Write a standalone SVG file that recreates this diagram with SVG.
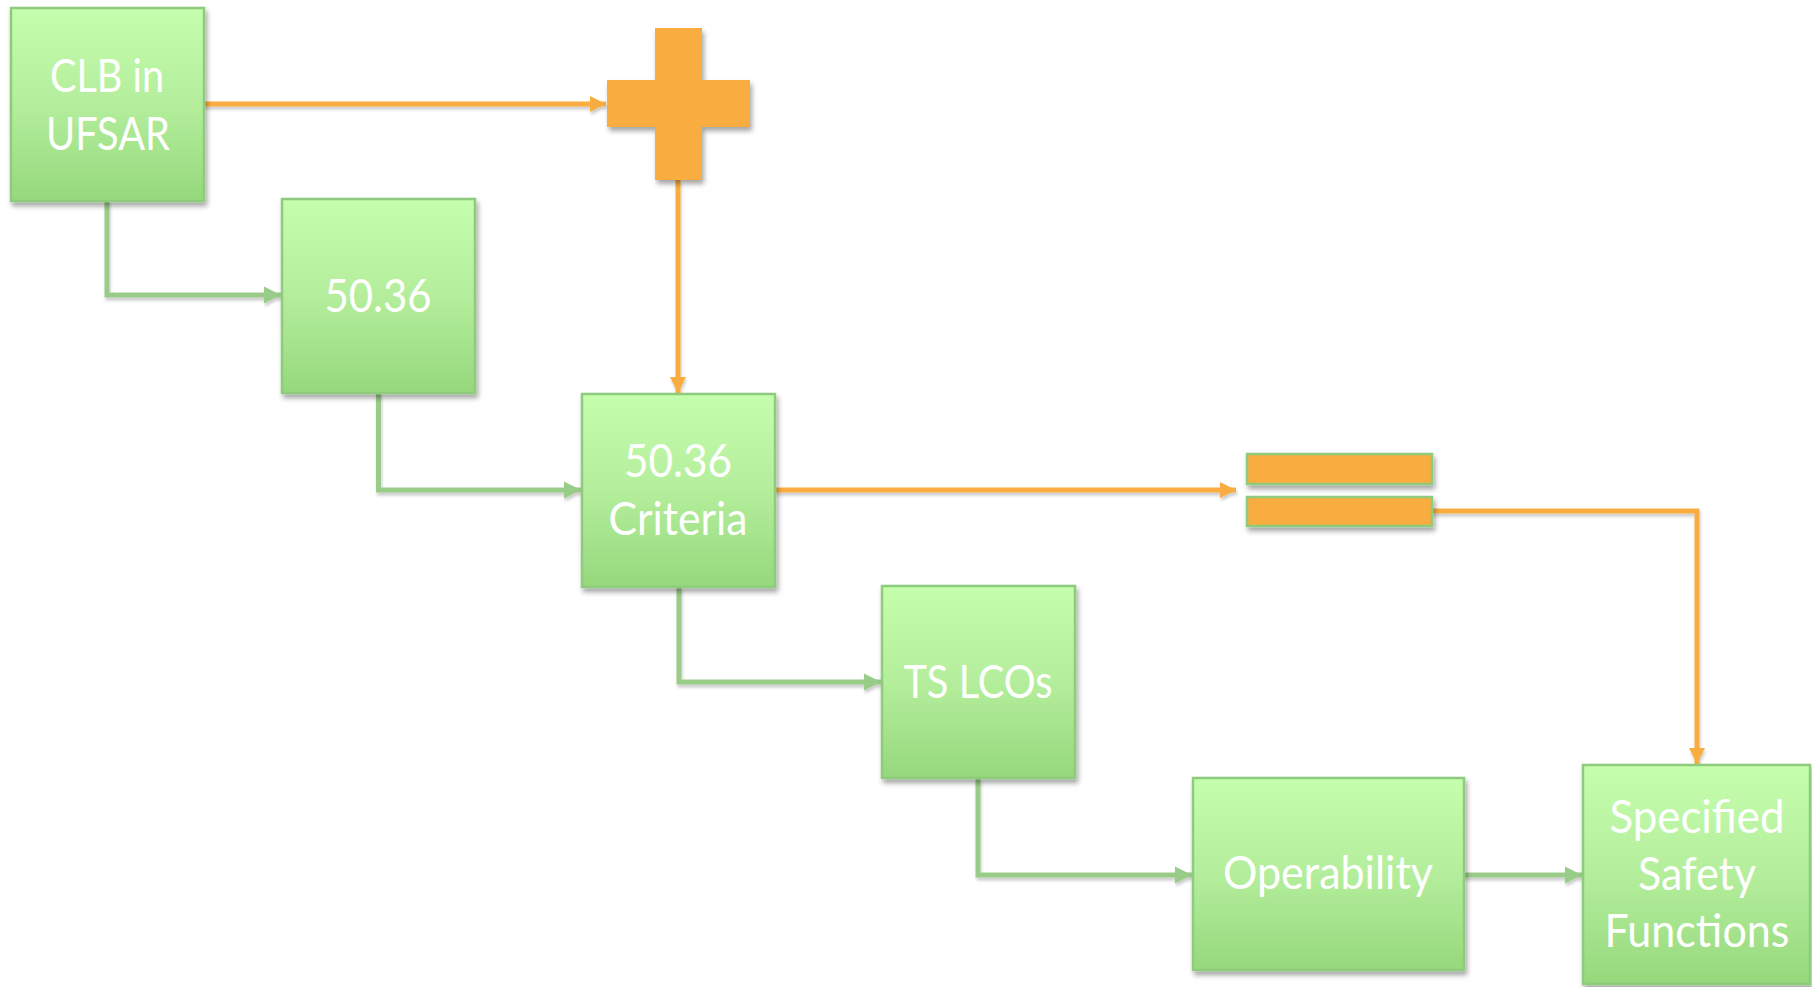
<svg xmlns="http://www.w3.org/2000/svg" width="1812" height="987" viewBox="0 0 1812 987">
<style>
.box{fill:url(#g);stroke:#8fcb7b;stroke-width:2.5;filter:url(#sh)}
.t{font-family:Lato,"Open Sans",sans-serif;font-size:46px;fill:#ffffff;text-anchor:middle}
.gc{fill:none;stroke:#99cc88;stroke-width:5;filter:url(#sh2)}
.oc{fill:none;stroke:#f9ad3f;stroke-width:5;filter:url(#sh2)}
.or{fill:#f9ad3f}
.eq{fill:#f9ad3f;stroke:#8fcb7b;stroke-width:2.5;filter:url(#sh)}
</style>
<defs>
<linearGradient id="g" x1="0" y1="0" x2="0" y2="1">
<stop offset="0" stop-color="#c5ffae"/>
<stop offset="0.5" stop-color="#b4ee9c"/>
<stop offset="1" stop-color="#96d87c"/>
</linearGradient>
<filter id="sh" filterUnits="userSpaceOnUse" x="0" y="0" width="1812" height="987">
<feDropShadow dx="2" dy="4" stdDeviation="2.5" flood-color="#000" flood-opacity="0.35"/>
</filter>
<filter id="sh2" filterUnits="userSpaceOnUse" x="0" y="0" width="1812" height="987">
<feDropShadow dx="1" dy="3" stdDeviation="1.5" flood-color="#000" flood-opacity="0.2"/>
</filter>
<marker id="ag" markerUnits="userSpaceOnUse" markerWidth="20" markerHeight="20" viewBox="0 0 20 20" refX="17" refY="10" orient="auto">
<path d="M0,1.5 L17,10 L0,18.5 Z" fill="#99cc88"/>
</marker>
<marker id="ao" markerUnits="userSpaceOnUse" markerWidth="20" markerHeight="20" viewBox="0 0 20 20" refX="16" refY="10" orient="auto">
<path d="M0,2 L16,10 L0,18 Z" fill="#f9ad3f"/>
</marker>
</defs>
<rect width="1812" height="987" fill="#ffffff"/>
<g id="connectors">
<path class="gc" d="M107,201 V295 H281" marker-end="url(#ag)"/>
<path class="gc" d="M378.5,393 V490 H581" marker-end="url(#ag)"/>
<path class="gc" d="M679,587 V682 H881" marker-end="url(#ag)"/>
<path class="gc" d="M978,778 V875 H1192" marker-end="url(#ag)"/>
<path class="gc" d="M1464,875 H1582" marker-end="url(#ag)"/>
<path class="oc" d="M204,104 H606" marker-end="url(#ao)"/>
<path class="oc" d="M678,180 V393" marker-end="url(#ao)"/>
<path class="oc" d="M775,490 H1236" marker-end="url(#ao)"/>
<path class="oc" d="M1432,511 H1697 V764" marker-end="url(#ao)"/>
</g>
<g id="plus">
<path class="or" style="filter:url(#sh)" d="M655,28 H702 V80 H750 V127 H702 V180 H655 V127 H607 V80 H655 Z"/>
</g>
<g id="equals">
<rect class="eq" x="1247" y="454" width="185" height="30"/>
<rect class="eq" x="1247" y="497" width="185" height="29"/>
</g>
<g id="clb">
<rect class="box" x="11" y="8" width="193" height="193"/>
<text class="t" x="107" y="92" textLength="114" lengthAdjust="spacingAndGlyphs">CLB in</text>
<text class="t" x="108" y="150" textLength="124" lengthAdjust="spacingAndGlyphs">UFSAR</text>
</g>
<g id="n5036">
<rect class="box" x="282" y="199" width="193" height="194"/>
<text class="t" x="378" y="312" textLength="107" lengthAdjust="spacingAndGlyphs">50.36</text>
</g>
<g id="criteria">
<rect class="box" x="582" y="394" width="193" height="193"/>
<text class="t" x="678" y="477" textLength="108" lengthAdjust="spacingAndGlyphs">50.36</text>
<text class="t" x="678" y="535" textLength="139" lengthAdjust="spacingAndGlyphs">Criteria</text>
</g>
<g id="tslcos">
<rect class="box" x="882" y="586" width="193" height="192"/>
<text class="t" x="978" y="698" textLength="149" lengthAdjust="spacingAndGlyphs">TS LCOs</text>
</g>
<g id="operability">
<rect class="box" x="1193" y="778" width="271" height="192"/>
<text class="t" x="1328" y="889" textLength="210" lengthAdjust="spacingAndGlyphs">Operability</text>
</g>
<g id="ssf">
<rect class="box" x="1583" y="765" width="227" height="219"/>
<text class="t" x="1697" y="833" textLength="175" lengthAdjust="spacingAndGlyphs">Specified</text>
<text class="t" x="1697" y="890" textLength="118" lengthAdjust="spacingAndGlyphs">Safety</text>
<text class="t" x="1697" y="947" textLength="185" lengthAdjust="spacingAndGlyphs">Functions</text>
</g>
</svg>
